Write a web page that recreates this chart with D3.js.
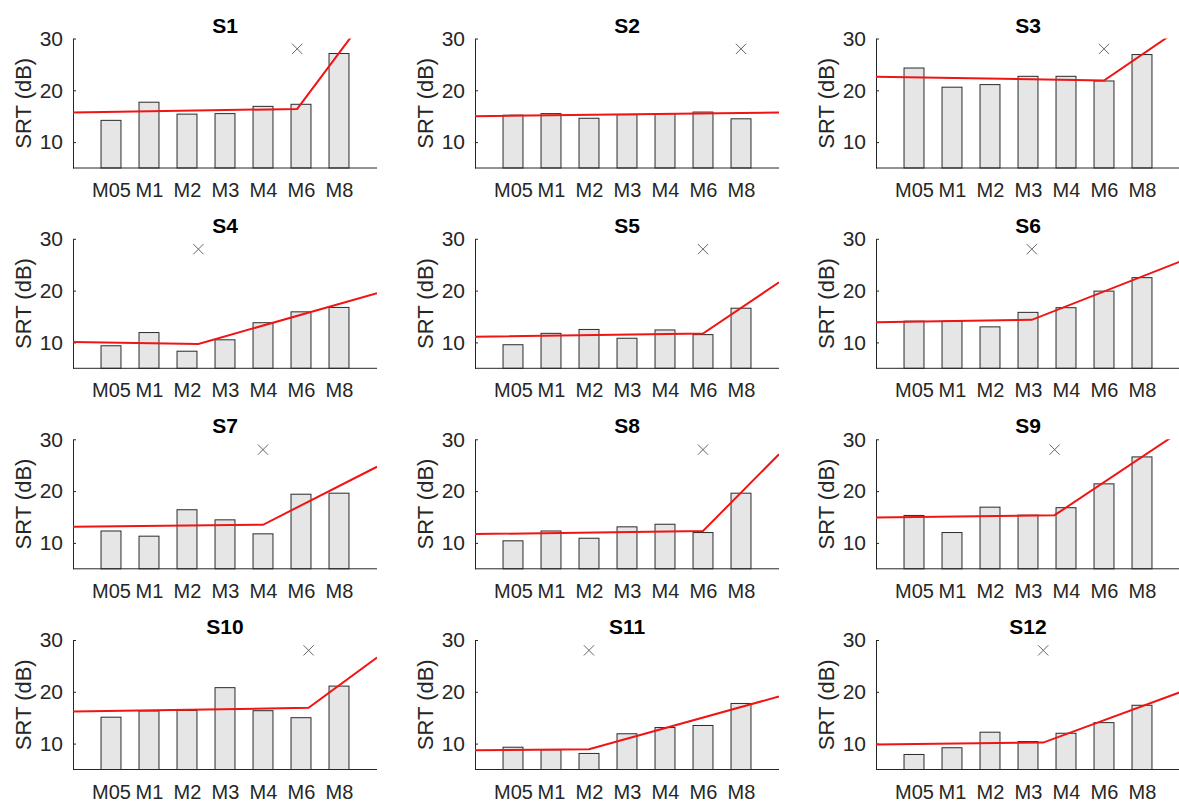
<!DOCTYPE html>
<html>
<head>
<meta charset="utf-8">
<script src="https://cdn.jsdelivr.net/npm/d3@7"></script>
<style>
  body { margin: 0; background: #fff; }
  text { font-family: "Liberation Sans", Arial, sans-serif; }
</style>
</head>
<body>
<div id="fig"></div>
<script>
// categories and subjects
const methods = ["M05", "M1", "M2", "M3", "M4", "M6", "M8"];
const subjects = ["S1", "S2", "S3", "S4", "S5", "S6", "S7", "S8", "S9", "S10", "S11", "S12"];

// bar heights (SRT, dB), one row per subject
const srt = [
  [14.2, 17.7, 15.4, 15.5, 16.9, 17.3, 27.1],
  [15.2, 15.5, 14.6, 15.3, 15.5, 15.8, 14.5],
  [24.3, 20.6, 21.1, 22.7, 22.7, 21.8, 26.9],
  [9.35, 11.9, 8.3, 10.5, 13.8, 15.9, 16.75],
  [9.55, 11.75, 12.5, 10.8, 12.4, 11.5, 16.6],
  [14.1, 14.1, 13.0, 15.8, 16.7, 19.9, 22.5],
  [12.3, 11.3, 16.4, 14.45, 11.75, 19.4, 19.6],
  [10.4, 12.3, 10.9, 13.1, 13.6, 12.0, 19.6],
  [15.3, 12.0, 16.9, 15.35, 16.8, 21.4, 26.6],
  [15.1, 16.3, 16.4, 20.8, 16.35, 15.0, 21.1],
  [9.3, 8.8, 8.1, 11.9, 13.1, 13.5, 17.75],
  [7.9, 9.2, 12.2, 10.4, 12.0, 14.05, 17.4]
];

// broken-stick fit: value at x=0, breakpoint (x, y), value at x=8
const fitStart = [15.7, 15.0, 22.6, 10.1, 11.1, 13.9, 13.1, 11.7, 14.9, 16.2, 8.7, 9.85];
const breakX   = [5.9, 7.0, 6.0, 3.3, 6.0, 4.1, 5.0, 6.0, 4.7, 6.2, 3.0, 4.4];
const breakY   = [16.4, 15.6, 21.9, 9.7, 11.7, 14.35, 13.5, 12.3, 15.35, 16.9, 8.9, 10.2];
const fitEnd   = [37.0, 15.7, 31.9, 19.5, 21.6, 25.6, 24.7, 27.1, 31.5, 26.6, 19.1, 19.9];
const markerY = 28;

const yTicks = [10, 20, 30];

const W = 1179, H = 802;
const colLeft = [73, 475, 876];
const rowTop = [38.5, 238.8, 439.3, 640];
const pw = 304, ph = 129.5;

const svg = d3.select("#fig").append("svg")
    .attr("width", W)
    .attr("height", H);

const x = d3.scaleLinear().domain([0, 8]).range([0, pw]);
const y = d3.scaleLinear().domain([5, 30]).range([ph, 0]);
const barW = 0.525;
const ink = "#262626";

subjects.forEach((name, k) => {
  const col = k % 3, row = Math.floor(k / 3);
  const g = svg.append("g")
      .attr("transform", `translate(${colLeft[col]},${rowTop[row]})`);

  g.append("clipPath").attr("id", "clip" + k)
    .append("rect").attr("width", pw).attr("height", ph);

  // bars
  g.append("g")
    .selectAll("rect")
    .data(srt[k])
    .join("rect")
      .attr("x", (d, i) => x(i + 1 - barW / 2))
      .attr("width", x(barW) - x(0))
      .attr("y", d => y(d))
      .attr("height", d => y(5) - y(d))
      .attr("fill", "#e6e6e6")
      .attr("stroke", "#2a2a2a")
      .attr("stroke-width", 1);

  // axes
  const yAxis = g.append("g")
      .call(d3.axisLeft(y).tickValues(yTicks).tickSizeInner(-3).tickSizeOuter(0).tickPadding(10));
  const xAxis = g.append("g")
      .attr("transform", `translate(0,${ph})`)
      .call(d3.axisBottom(x).tickValues(d3.range(1, 8))
        .tickFormat(d => methods[d - 1]).tickSize(0).tickPadding(15));
  [yAxis, xAxis].forEach(a => {
    a.select(".domain").attr("stroke", ink).attr("stroke-width", 1);
    a.selectAll(".tick line").attr("stroke", ink);
    a.selectAll("text").attr("fill", ink).style("font-size", "20px");
  });
  yAxis.selectAll("text").style("font-size", "21px");
  xAxis.select(".domain").attr("d", `M0,0H${pw}`);

  // fitted line
  const pts = [[0, fitStart[k]], [breakX[k], breakY[k]], [8, fitEnd[k]]];
  g.append("path")
      .attr("clip-path", `url(#clip${k})`)
      .attr("d", d3.line().x(d => x(d[0])).y(d => y(d[1]))(pts))
      .attr("fill", "none")
      .attr("stroke", "#f01414")
      .attr("stroke-width", 2);

  // breakpoint marker
  g.append("path")
      .attr("transform", `translate(${x(breakX[k])},${y(markerY)})`)
      .attr("d", d3.symbol(d3.symbolX, 70)())
      .attr("fill", "none")
      .attr("stroke", "#666")
      .attr("stroke-width", 1);

  // title + y label
  g.append("text")
      .attr("x", pw / 2)
      .attr("y", -6)
      .attr("text-anchor", "middle")
      .attr("font-weight", "bold")
      .style("font-size", "21px")
      .attr("fill", "#000")
      .text(name);

  g.append("text")
      .attr("transform", `translate(-50,${ph / 2}) rotate(-90)`)
      .attr("text-anchor", "middle")
      .attr("dominant-baseline", "central")
      .style("font-size", "22px")
      .attr("fill", ink)
      .text("SRT (dB)");
});
</script>
</body>
</html>
